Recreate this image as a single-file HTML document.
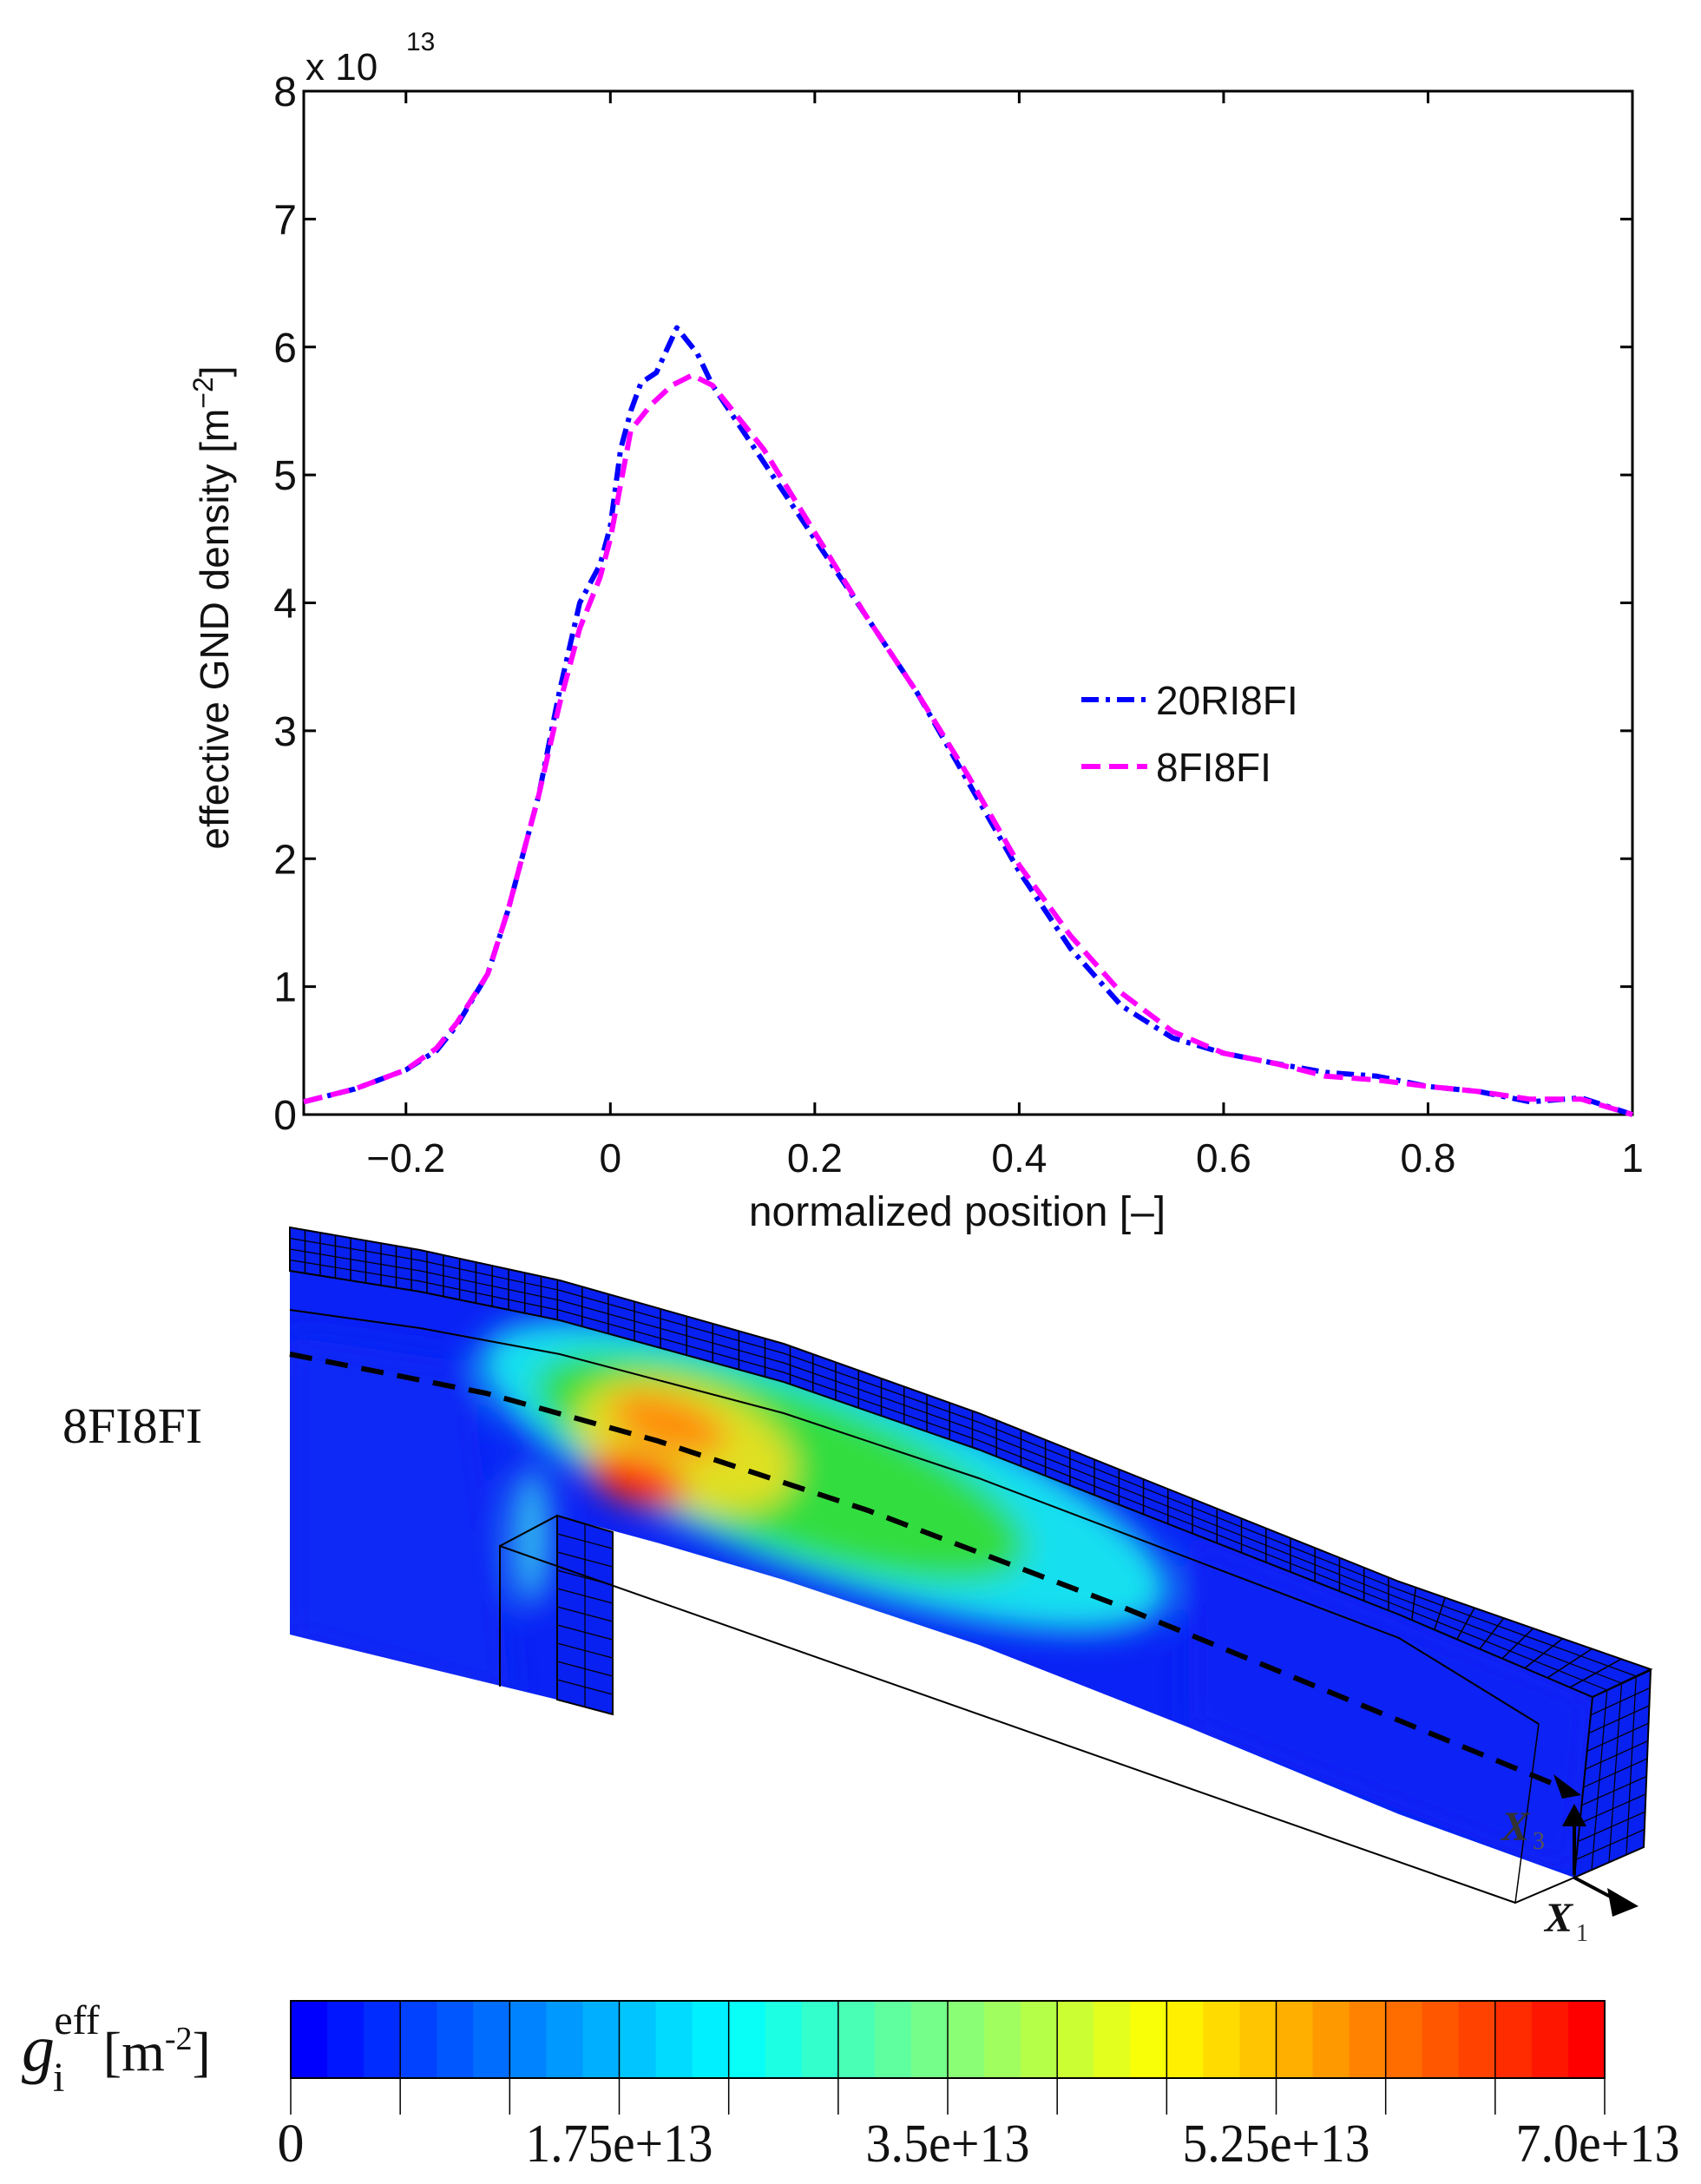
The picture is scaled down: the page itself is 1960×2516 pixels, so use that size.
<!DOCTYPE html>
<html><head><meta charset="utf-8"><style>
html,body{margin:0;padding:0;background:#fff}
svg{display:block}
</style></head><body>
<svg id="fig" width="1960" height="2516" viewBox="0 0 1960 2516" xmlns="http://www.w3.org/2000/svg">
<defs>
<filter id="blur" x="-50%" y="-50%" width="200%" height="200%"><feGaussianBlur stdDeviation="18"/></filter>
<clipPath id="faceClip"><polygon id="faceClipPoly" points=""/></clipPath>
</defs>
<g id="chart"></g>
<g id="beam"></g>
<g id="cbar"></g>
</svg>
<script>
const xTicks=[-0.2,0,0.2,0.4,0.6,0.8,1];
const xTickLabels=["\u22120.2","0","0.2","0.4","0.6","0.8","1"];
const yTicks=[0,1,2,3,4,5,6,7,8];
const blueX=[-0.3,-0.25,-0.2,-0.17,-0.15,-0.12,-0.1,-0.07,-0.05,-0.03,-0.01,0,0.01,0.02,0.03,0.045,0.065,0.085,0.1,0.15,0.2,0.25,0.3,0.35,0.4,0.45,0.5,0.55,0.6,0.65,0.7,0.75,0.8,0.85,0.9,0.95,1.0];
const blueY=[0.1,0.2,0.35,0.5,0.7,1.1,1.6,2.5,3.3,4.0,4.3,4.6,5.2,5.5,5.72,5.8,6.15,5.95,5.7,5.1,4.5,3.9,3.3,2.6,1.9,1.3,0.85,0.6,0.48,0.4,0.33,0.3,0.22,0.18,0.1,0.13,0.0];
const magX=[-0.3,-0.25,-0.2,-0.17,-0.15,-0.12,-0.1,-0.07,-0.05,-0.03,-0.01,0,0.02,0.04,0.06,0.08,0.1,0.15,0.2,0.25,0.3,0.35,0.4,0.45,0.5,0.55,0.6,0.65,0.7,0.75,0.8,0.85,0.9,0.95,1.0];
const magY=[0.1,0.2,0.35,0.52,0.72,1.1,1.6,2.5,3.2,3.8,4.2,4.5,5.35,5.55,5.7,5.78,5.7,5.2,4.55,3.9,3.3,2.65,1.95,1.4,0.95,0.65,0.48,0.4,0.3,0.27,0.22,0.18,0.12,0.12,0.0];
const cbTickLabels=["0","1.75e+13","3.5e+13","5.25e+13","7.0e+13"];
const cbMax=7.0;

const NS="http://www.w3.org/2000/svg";
function mk(parent,tag,attrs,text){const e=document.createElementNS(NS,tag);for(const k in attrs)e.setAttribute(k,attrs[k]);if(text!==undefined)e.textContent=text;parent.appendChild(e);return e;}
const L=350,R=1881,T=105,B=1284;
const sx=v=>L+(v+0.3)/1.3*(R-L);
const sy=v=>B-v/8*(B-T);
const chart=document.getElementById('chart');
const font='"Liberation Sans", sans-serif';

xTicks.forEach((v,i)=>{
  const t1=mk(chart,'line',{x1:sx(v),x2:sx(v),y1:B,y2:B-14,stroke:'#000','stroke-width':3});
  
  const t2=mk(chart,'line',{x1:sx(v),x2:sx(v),y1:T,y2:T+14,stroke:'#000','stroke-width':3});
  
  const lb=mk(chart,'text',{x:sx(v),y:1350,'font-family':font,'font-size':46,'text-anchor':'middle',fill:'#111'},xTickLabels[i]);
  
});
yTicks.forEach(v=>{
  const t1=mk(chart,'line',{x1:L,x2:L+14,y1:sy(v),y2:sy(v),stroke:'#000','stroke-width':3});
  
  const t2=mk(chart,'line',{x1:R,x2:R-14,y1:sy(v),y2:sy(v),stroke:'#000','stroke-width':3});
  
  const lb=mk(chart,'text',{x:L-8,y:sy(v)+17,'font-family':font,'font-size':48,'text-anchor':'end',fill:'#111'},String(v));
  
});
const frame=mk(chart,'rect',{x:L,y:T,width:R-L,height:B-T,fill:'none',stroke:'#000','stroke-width':3});


function series(xs,ys,color,dash,name){
  const p=xs.map((x,i)=>sx(x).toFixed(1)+','+sy(ys[i]).toFixed(1)).join(' ');
  const e=mk(chart,'polyline',{points:p,fill:'none',stroke:color,'stroke-width':6,'stroke-dasharray':dash,'stroke-linejoin':'round'});
  
}
series(blueX,blueY,'#0000ff','20 8 5 8','series-20RI8FI');
series(magX,magY,'#ff00ff','22 10','series-8FI8FI');

const lg=mk(chart,'g',{});

const l1=mk(lg,'line',{x1:1246,x2:1322,y1:806,y2:806,stroke:'#0000ff','stroke-width':6,'stroke-dasharray':'20 8 5 8'});

const lt1=mk(lg,'text',{x:1332,y:823,'font-family':font,'font-size':46,fill:'#111'},'20RI8FI');

const l2=mk(lg,'line',{x1:1246,x2:1322,y1:883,y2:883,stroke:'#ff00ff','stroke-width':6,'stroke-dasharray':'22 10'});

const lt2=mk(lg,'text',{x:1332,y:900,'font-family':font,'font-size':46,fill:'#111'},'8FI8FI');


const yt=mk(chart,'text',{x:0,y:0,'font-family':font,'font-size':46,'text-anchor':'middle',fill:'#111',transform:'translate(263,700) rotate(-90)'});

yt.innerHTML='effective GND density [m<tspan dy="-18" font-size="32">\u22122</tspan><tspan dy="18">]</tspan>';
const xt=mk(chart,'text',{x:1103,y:1412,'font-family':font,'font-size':48,'text-anchor':'middle',fill:'#111'},'normalized position [\u2013]');

const ex=mk(chart,'text',{x:352,y:92,'font-family':font,'font-size':44,fill:'#111'},'x 10');

const ex2=mk(chart,'text',{x:468,y:58,'font-family':font,'font-size':30,fill:'#111'},'13');


// ---- beam ----
const beam=document.getElementById('beam');
const outerTop=[[334,1414],[484,1440],[645,1475],[903,1548],[1128,1628],[1370,1725],[1612,1822],[1902,1923]];
const innerTop=[[334,1464],[484,1488],[645,1521],[903,1592],[1128,1670],[1370,1765],[1612,1860],[1835,1955]];
const under=[[1814,2163],[1612,2090],[1370,1990],[1128,1895],[903,1820],[760,1778],[642,1746]];
const pts=a=>a.map(p=>p.join(',')).join(' ');
const facePts=[...innerTop,...under,[642,1958],[334,1883]];
document.getElementById('faceClipPoly').setAttribute('points',pts(facePts));
const face=mk(beam,'polygon',{points:pts(facePts),fill:'#0a22f5'});

const heat=mk(beam,'g',{'clip-path':'url(#faceClip)'});

const hb=mk(heat,'g',{filter:'url(#blur)'});
mk(hb,'ellipse',{cx:950,cy:1700,rx:420,ry:115,fill:'#18e0f0',transform:'rotate(20 950 1700)'});
mk(hb,'ellipse',{cx:900,cy:1690,rx:300,ry:90,fill:'#30dd40',transform:'rotate(20 900 1690)'});
mk(hb,'ellipse',{cx:790,cy:1665,rx:130,ry:70,fill:'#e0e020',transform:'rotate(18 790 1665)'});
mk(hb,'ellipse',{cx:770,cy:1640,rx:70,ry:30,fill:'#ff8a10',transform:'rotate(18 770 1640)'});
mk(hb,'ellipse',{cx:735,cy:1705,rx:60,ry:28,fill:'#ff3010',transform:'rotate(18 735 1705)'});
mk(hb,'ellipse',{cx:612,cy:1770,rx:22,ry:80,fill:'#30c0f0'});
mk(hb,'polygon',{points:'1370,1765 1835,1955 1814,2163 1370,1990',fill:'#0a22f5'});
mk(hb,'polygon',{points:'334,1540 540,1570 590,1958 334,1883',fill:'#0a2af5',opacity:0.9});
const strip=mk(beam,'polygon',{points:pts([...outerTop,...innerTop.slice().reverse()]),fill:'#0820f0',stroke:'#000','stroke-width':2});

function lerpPath(path,t){const n=path.length-1;const f=t*n;const i=Math.min(Math.floor(f),n-1);const u=f-i;return [path[i][0]+(path[i+1][0]-path[i][0])*u,path[i][1]+(path[i+1][1]-path[i][1])*u];}
for(let k=1;k<60;k++){const a=lerpPath(outerTop,k/60),b=lerpPath(innerTop,k/60);mk(beam,'line',{x1:a[0],y1:a[1],x2:b[0],y2:b[1],stroke:'#000','stroke-width':1.5});}
for(let r=1;r<4;r++){const p=outerTop.map((q,i)=>[q[0]+(innerTop[i][0]-q[0])*r/4,q[1]+(innerTop[i][1]-q[1])*r/4]);mk(beam,'polyline',{points:pts(p),fill:'none',stroke:'#000','stroke-width':1.2});}
const sup=mk(beam,'polygon',{points:'642,1746 706,1765 706,1975 642,1958',fill:'#0820f0',stroke:'#000','stroke-width':2});

for(let k=1;k<10;k++){const y=1746+k*21;mk(beam,'line',{x1:642,y1:y,x2:706,y2:y+17,stroke:'#000','stroke-width':1.2});}
mk(beam,'line',{x1:674,y1:1755,x2:674,y2:1966,stroke:'#000','stroke-width':1.2});
const endf=mk(beam,'polygon',{points:'1835,1955 1902,1924 1894,2128 1814,2163',fill:'#0820f0',stroke:'#000','stroke-width':2});

for(let k=1;k<10;k++){const t=k/10;mk(beam,'line',{x1:1835-21*t,y1:1955+208*t,x2:1902-8*t,y2:1924+204*t,stroke:'#000','stroke-width':1.2});}
for(let k=1;k<4;k++){const t=k/4;mk(beam,'line',{x1:1835+67*t,y1:1955-31*t,x2:1814+80*t,y2:2163-35*t,stroke:'#000','stroke-width':1.2});}
const midLine=innerTop.map((p,i)=>[p[0],p[1]+45-i*3]);
mk(beam,'polyline',{points:pts(midLine.slice(0,7))+' 1773,1986',fill:'none',stroke:'#000','stroke-width':2});
mk(beam,'polyline',{points:'576,1943 576,1781 1746,2192 1814,2163',fill:'none',stroke:'#000','stroke-width':2});
mk(beam,'line',{x1:1746,y1:2192,x2:1773,y2:1986,stroke:'#000','stroke-width':1.5});
mk(beam,'line',{x1:576,y1:1781,x2:642,y2:1746,stroke:'#000','stroke-width':2});
const dash=mk(beam,'polyline',{points:'334,1560 560,1605 758,1660 1000,1740 1290,1850 1790,2055',fill:'none',stroke:'#000','stroke-width':6,'stroke-dasharray':'26 16'});

mk(beam,'polygon',{points:'1790,2044 1822,2068 1800,2072',fill:'#000'});
mk(beam,'line',{x1:1814,y1:2160,x2:1814,y2:2095,stroke:'#000','stroke-width':4});
mk(beam,'polygon',{points:'1814,2078 1800,2104 1828,2104',fill:'#000'});
mk(beam,'line',{x1:1814,y1:2163,x2:1865,y2:2190,stroke:'#000','stroke-width':4});
mk(beam,'polygon',{points:'1888,2196 1852,2175 1858,2208',fill:'#000'});
const x3=mk(beam,'text',{x:1730,y:2120,'font-family':'"Liberation Serif", serif','font-size':48,'font-style':'italic','font-weight':'bold',fill:'#333'},'X');

mk(beam,'text',{x:1766,y:2130,'font-family':'"Liberation Serif", serif','font-size':28,fill:'#555'},'3');
const x1=mk(beam,'text',{x:1780,y:2225,'font-family':'"Liberation Serif", serif','font-size':48,'font-style':'italic','font-weight':'bold',fill:'#111'},'X');

mk(beam,'text',{x:1816,y:2236,'font-family':'"Liberation Serif", serif','font-size':28,fill:'#333'},'1');
const tag=mk(beam,'text',{x:72,y:1662,'font-family':'"Liberation Serif", serif','font-size':58,fill:'#111'},'8FI8FI');


// ---- colorbar ----
const cb=document.getElementById('cbar');
const CL=335,CR=1849,CT=2305,CB=2394;
function jet(t){const r=Math.min(1,Math.max(0,1.5-Math.abs(4*t-3))),g=Math.min(1,Math.max(0,1.5-Math.abs(4*t-2))),b=Math.min(1,Math.max(0,1.5-Math.abs(4*t-1)));return `rgb(${Math.round(r*255)},${Math.round(g*255)},${Math.round(b*255)})`;}
const nb=36;
for(let i=0;i<nb;i++){const t=0.125+0.75*(i/(nb-1));const r=mk(cb,'rect',{x:CL+i*(CR-CL)/nb,y:CT,width:(CR-CL)/nb+0.6,height:CB-CT,fill:jet(t)});
}
mk(cb,'rect',{x:CL,y:CT,width:CR-CL,height:CB-CT,fill:'none',stroke:'#000','stroke-width':2});
for(let i=0;i<=12;i++){const x=CL+i*(CR-CL)/12;mk(cb,'line',{x1:x,x2:x,y1:CT,y2:2436,stroke:'#000','stroke-width':1.5});}
cbTickLabels.forEach((s,i)=>{const v=i*1.75;const x=CL+v/cbMax*(CR-CL);
const t=mk(cb,'text',{x:x,y:2490,'font-family':'"Liberation Serif", serif','font-size':62,'text-anchor':'middle',fill:'#111',textLength:i==0?'':'',}, s);
if(i>0){t.setAttribute('textLength',s.length*27);t.setAttribute('lengthAdjust','spacingAndGlyphs');}
if(i==4)t.setAttribute('x',x-8);
});
const ct=mk(cb,'text',{x:25,y:2385,'font-family':'"Liberation Serif", serif','font-size':76,fill:'#111'});

ct.innerHTML='<tspan font-style="italic">g</tspan><tspan font-size="48" dx="-2" dy="24">i</tspan><tspan font-size="48" dx="-12" dy="-66">eff</tspan><tspan dy="42" dx="4" font-size="64">[m</tspan><tspan font-size="38" dy="-24">-2</tspan><tspan font-size="64" dy="24">]</tspan>';
</script>
</body></html>
